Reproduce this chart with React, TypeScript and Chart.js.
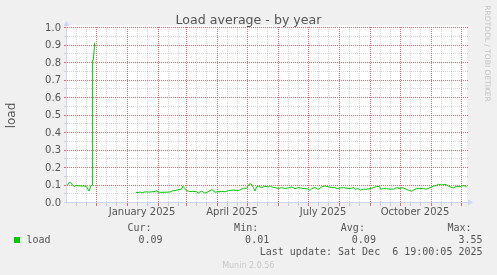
import { useEffect, useRef } from 'react';
import { Chart, registerables } from 'chart.js';

Chart.register(...registerables);

const W = 497;
const H = 275;

// x = days since 1 Nov 2024 (graph covers 400 days up to 6 Dec 2025)
const loadDays: number[] = [
  0, 2, 3, 5, 6, 7, 9, 12, 15, 18, 20, 21, 22, 23, 24, 25.2, 25.4, 26.3, 27.7,
  48,
  69, 72, 73, 75, 77, 79, 82, 85, 88, 90, 91, 95, 100, 103, 106, 110, 113, 114.7, 115.7, 118,
  119.7, 123, 126, 129.7, 131.3, 134.7, 138, 143, 144.7, 148, 154.7, 158, 161.3, 166.3, 171.3,
  173, 176.3, 179.7, 182, 184, 186.3, 188, 189.7, 191.3, 194.7, 198, 201.3, 203, 204.7, 208,
  211.3, 214.7, 218, 221.3, 224.7, 228, 231.3, 234.7, 238, 241.3, 243, 244.7, 248, 251.3,
  254.7, 258, 261.3, 264.7, 268, 269.7, 276.3, 283, 286.3, 288, 291.3, 293.7, 296.3, 299.7,
  303, 306.3, 309.7, 312.3, 313.7, 316.3, 319.7, 323, 326.3, 329.7, 333, 334.7, 338, 341.3,
  344.7, 348, 351.3, 356.3, 359.7, 363, 366.3, 369.7, 371.3, 374.7, 378, 380.3, 383, 386.3,
  389.7, 393, 394.7, 398, 399.7,
];

const loadValues: (number | null)[] = [
  0.098, 0.115, 0.118, 0.108, 0.1, 0.094, 0.1, 0.098, 0.097, 0.097, 0.09, 0.078, 0.068, 0.085,
  0.1, 0.1, 0.816, 0.816, 0.916,
  null,
  0.06, 0.06, 0.064, 0.058, 0.062, 0.064, 0.062, 0.064, 0.066, 0.071, 0.062, 0.061, 0.062, 0.063,
  0.07, 0.074, 0.078, 0.08, 0.096, 0.082,
  0.071, 0.065, 0.067, 0.064, 0.057, 0.068, 0.056, 0.07, 0.077, 0.062, 0.066, 0.064, 0.071,
  0.074, 0.071,
  0.075, 0.084, 0.084, 0.107, 0.11, 0.088, 0.069, 0.092, 0.096, 0.088, 0.096, 0.092, 0.098,
  0.092, 0.088,
  0.083, 0.088, 0.083, 0.086, 0.092, 0.082, 0.088, 0.084, 0.082, 0.08, 0.071, 0.082, 0.088,
  0.078,
  0.092, 0.098, 0.092, 0.088, 0.088, 0.083, 0.088, 0.082, 0.088, 0.079, 0.082, 0.073, 0.079,
  0.079,
  0.082, 0.088, 0.094, 0.094, 0.079, 0.082, 0.082, 0.079, 0.079, 0.088, 0.082, 0.088, 0.082,
  0.073,
  0.067, 0.079, 0.084, 0.082, 0.079, 0.088, 0.096, 0.101, 0.107, 0.103, 0.107, 0.101, 0.092,
  0.086,
  0.096, 0.092, 0.098, 0.098, 0.092,
];

// month starts (major grid) and minor grid days
const monthStartDays: number[] = [0, 30, 61, 92, 120, 151, 181, 212, 242, 273, 304, 334, 365, 395];
const minorGridDays: number[] = [
  10, 20, 40, 50, 71, 81, 102, 112, 130, 140, 161, 171, 191, 201, 222, 232, 252, 262, 283, 293,
  314, 324, 344, 354, 375, 385,
];
const xTickDays: number[] = [75, 165, 256, 348];
const xTickLabels: string[] = ['January 2025', 'April 2025', 'July 2025', 'October 2025'];

const yMajorTicks: number[] = [0, 0.1, 0.2, 0.3, 0.4, 0.5, 0.6, 0.7, 0.8, 0.9, 1.0];
const yMinorTicks: number[] = [0.05, 0.15, 0.25, 0.35, 0.45, 0.55, 0.65, 0.75, 0.85, 0.95];

const titleText = 'Load average - by year';
const yAxisTitle = 'load';
const seriesName = 'load';
const legendHeaders: string[] = ['Cur:', 'Min:', 'Avg:', 'Max:'];
const legendValues: string[] = ['0.09', '0.01', '0.09', '3.55'];
const lastUpdate = 'Last update: Sat Dec  6 19:00:05 2025';
const sideText = 'RRDTOOL / TOBI OETIKER';
const footerText = 'Munin 2.0.56';

const LINE_COLOR = '#00cc00';
const MAJOR = 'rgba(224,80,80,0.85)';
const MINOR = 'rgba(150,150,150,0.4)';
const AXIS = '#cfd6f8';
const FONT_COLOR = '#555';

const muninPlugin = {
  id: 'muninDecor',
  beforeDraw(chart: any) {
    const { ctx, chartArea: a } = chart;
    ctx.save();
    ctx.fillStyle = '#f0f0f0';
    ctx.fillRect(0, 0, W, H);
    ctx.fillStyle = '#ffffff';
    ctx.fillRect(a.left, a.top - 3, a.right - a.left, a.bottom - a.top + 3);
    ctx.restore();
  },
  beforeDatasetsDraw(chart: any) {
    const { ctx, chartArea: a, scales } = chart;
    const xs = scales.x;
    const ys = scales.y;
    ctx.save();
    ctx.lineWidth = 1;
    ctx.setLineDash([1, 1]);
    const vline = (d: number, color: string) => {
      const px = Math.round(xs.getPixelForValue(d)) - 0.5;
      ctx.strokeStyle = color;
      ctx.beginPath();
      ctx.moveTo(px, a.top - 1);
      ctx.lineTo(px, a.bottom);
      ctx.stroke();
    };
    const hline = (v: number, color: string) => {
      const py = Math.round(ys.getPixelForValue(v)) - 0.5;
      ctx.strokeStyle = color;
      ctx.beginPath();
      ctx.moveTo(a.left, py);
      ctx.lineTo(a.right + 1, py);
      ctx.stroke();
    };
    minorGridDays.forEach((d) => vline(d, MINOR));
    yMinorTicks.forEach((v) => hline(v, MINOR));
    monthStartDays.slice(1).forEach((d) => vline(d, MAJOR));
    yMajorTicks.slice(1).forEach((v) => hline(v, MAJOR));
    ctx.restore();
  },
  afterDatasetsDraw(chart: any) {
    const { ctx, chartArea: a, scales } = chart;
    const xs = scales.x;
    const ys = scales.y;
    ctx.save();
    // tick marks
    ctx.lineWidth = 1;
    ctx.setLineDash([]);
    const xTick = (d: number, color: string) => {
      const px = Math.round(xs.getPixelForValue(d)) - 0.5;
      ctx.strokeStyle = color;
      ctx.beginPath();
      ctx.moveTo(px, a.bottom);
      ctx.lineTo(px, a.bottom + 3);
      ctx.stroke();
    };
    const yTick = (v: number, color: string) => {
      const py = Math.round(ys.getPixelForValue(v)) - 0.5;
      ctx.strokeStyle = color;
      ctx.beginPath();
      ctx.moveTo(a.left - 3, py);
      ctx.lineTo(a.left, py);
      ctx.stroke();
    };
    minorGridDays.forEach((d) => xTick(d, MINOR));
    monthStartDays.slice(1).forEach((d) => xTick(d, MAJOR));
    yMinorTicks.forEach((v) => yTick(v, MINOR));
    yMajorTicks.slice(1).forEach((v) => yTick(v, MAJOR));

    // axes
    ctx.strokeStyle = AXIS;
    ctx.fillStyle = AXIS;
    ctx.beginPath();
    ctx.moveTo(a.left - 0.5, a.bottom + 0.5);
    ctx.lineTo(a.left - 0.5, a.top - 5);
    ctx.stroke();
    ctx.beginPath();
    ctx.moveTo(a.left - 3, a.bottom - 0.5);
    ctx.lineTo(a.right + 2, a.bottom - 0.5);
    ctx.stroke();
    // arrows
    ctx.beginPath();
    ctx.moveTo(a.left - 3.5, a.top - 2);
    ctx.lineTo(a.left + 2.5, a.top - 2);
    ctx.lineTo(a.left - 0.5, a.top - 7);
    ctx.closePath();
    ctx.fill();
    ctx.beginPath();
    ctx.moveTo(a.right + 1, a.bottom - 3.5);
    ctx.lineTo(a.right + 1, a.bottom + 2.5);
    ctx.lineTo(a.right + 6, a.bottom - 0.5);
    ctx.closePath();
    ctx.fill();

    // title
    ctx.fillStyle = FONT_COLOR;
    ctx.font = '12.6px "DejaVu Sans"';
    ctx.textAlign = 'center';
    ctx.textBaseline = 'alphabetic';
    ctx.fillText(titleText, 248.5, 24);

    // y axis title
    ctx.save();
    ctx.translate(15, (a.top + a.bottom) / 2);
    ctx.rotate(-Math.PI / 2);
    ctx.font = '12px "DejaVu Sans"';
    ctx.fillText(yAxisTitle, 0, 0);
    ctx.restore();

    // side watermark
    ctx.save();
    ctx.translate(485, 53.5);
    ctx.rotate(Math.PI / 2);
    ctx.fillStyle = '#c4c4c4';
    ctx.font = '7.5px "DejaVu Sans"';
    ctx.fillText(sideText, 0, 0);
    ctx.restore();

    // legend
    ctx.font = '10px "DejaVu Sans Mono"';
    ctx.fillStyle = FONT_COLOR;
    ctx.textAlign = 'right';
    legendHeaders.forEach((t, i) => {
      const right = 162.5 + i * 106.7;
      ctx.fillText(t, right - 11, 231);
      ctx.fillText(legendValues[i], right, 243);
    });
    ctx.fillText(lastUpdate, 482.5, 254.5);
    ctx.textAlign = 'left';
    ctx.fillText(seriesName, 26.5, 243);
    ctx.fillStyle = LINE_COLOR;
    ctx.fillRect(14, 237, 6, 6);

    // footer
    ctx.fillStyle = '#c8c8c8';
    ctx.font = '8px "DejaVu Sans"';
    ctx.textAlign = 'center';
    ctx.fillText(footerText, 248.3, 267.5);
    ctx.restore();
  },
};

export default function App() {
  const ref = useRef<HTMLCanvasElement>(null);
  useEffect(() => {
    if (!ref.current) return;
    const points = loadDays.map((d, i) => ({ x: d, y: loadValues[i] }));
    const chart = new Chart(ref.current, {
      type: 'line',
      data: {
        datasets: [
          {
            label: seriesName,
            data: points as any,
            borderColor: LINE_COLOR,
            borderWidth: 1,
            pointRadius: 0,
            tension: 0,
            spanGaps: false,
            fill: false,
          },
        ],
      },
      options: {
        responsive: false,
        animation: false,
        devicePixelRatio: 1,
        layout: { padding: { left: 0, right: 30, top: 28, bottom: 0 } },
        plugins: {
          legend: { display: false },
          title: { display: false },
          tooltip: { enabled: false },
        },
        scales: {
          x: {
            type: 'linear',
            min: 0,
            max: 400,
            grid: { display: false, drawTicks: false },
            border: { display: false },
            afterBuildTicks: (s: any) => {
              s.ticks = xTickDays.map((v) => ({ value: v }));
            },
            afterFit: (s: any) => {
              s.height = 72;
            },
            ticks: {
              autoSkip: false,
              maxRotation: 0,
              minRotation: 0,
              padding: 3,
              color: FONT_COLOR,
              font: { family: 'DejaVu Sans', size: 10 },
              callback: (v: any) => {
                const i = xTickDays.indexOf(Number(v));
                return i >= 0 ? xTickLabels[i] : '';
              },
            },
          },
          y: {
            min: 0,
            max: 1,
            grid: { display: false, drawTicks: false },
            border: { display: false },
            afterBuildTicks: (s: any) => {
              s.ticks = yMajorTicks.map((v) => ({ value: v }));
            },
            afterFit: (s: any) => {
              s.width = 67;
            },
            ticks: {
              padding: 6,
              color: FONT_COLOR,
              font: { family: 'DejaVu Sans', size: 10 },
              callback: (v: any) => Number(v).toFixed(1),
            },
          },
        },
      },
      plugins: [muninPlugin],
    });
    return () => chart.destroy();
  }, []);
  return (
    <div style={{ position: 'fixed', left: 0, top: 0, width: W, height: H, background: '#f0f0f0' }}>
      <canvas ref={ref} width={W} height={H} style={{ display: 'block', width: W, height: H }} />
    </div>
  );
}
